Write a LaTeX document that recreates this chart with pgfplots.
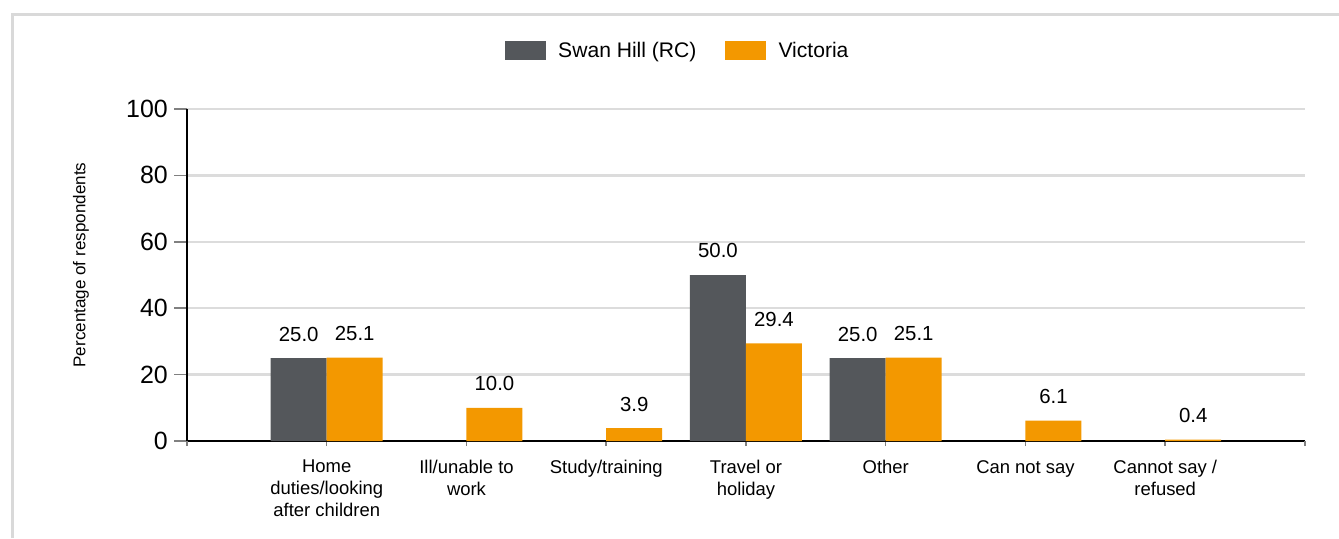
\documentclass[border=0pt]{standalone}
\usepackage{fontspec}
\setmainfont{Liberation Sans}
\usepackage{pgfplots}
\pgfplotsset{compat=1.18}

\definecolor{swan}{HTML}{54575B}
\definecolor{vic}{HTML}{F39800}
\definecolor{gridgray}{HTML}{DCDCDC}
\definecolor{framegray}{HTML}{D9D9D9}

\begin{document}
\begin{tikzpicture}
% picture is 1339 x 538 px, 1 px = 0.02cm
\useasboundingbox (0,0) rectangle (26.78cm,10.76cm);
\draw[framegray, line width=0.06cm] (0.24cm,0) -- (0.24cm,10.46cm) -- (26.78cm,10.46cm);

\begin{axis}[
    at={(3.74cm,1.94cm)}, anchor=south west,
    scale only axis,
    width=22.36cm, height=6.64cm,
    xmin=-1, xmax=7, ymin=0, ymax=100,
    ybar=0pt, bar width=1.12cm,
    axis x line*=bottom, axis y line*=left,
    axis line style={black, line width=0.04cm},
    ymajorgrids,
    grid style={gridgray, line width=0.05cm},
    tick align=outside,
    major tick length=0.26cm,
    xtick style={gray, line width=0.03cm, /pgfplots/major tick length=0.1cm},
    ytick style={gray, line width=0.03cm},
    ytick={0,20,...,100},
    xtick={0,...,6},
    extra x ticks={-1,7}, extra x tick labels={},
    xticklabels={Home\\duties/looking\\after children, Ill/unable to\\work, Study/training, Travel or\\holiday, Other, Can not say, Cannot say /\\refused},
    x tick label style={align=center, font=\fontsize{10.5}{12.5}\selectfont, yshift=0cm},
    y tick label style={font=\fontsize{14.2}{16}\selectfont},
    /pgf/number format/assume math mode=true,
    ylabel={Percentage of respondents},
    ylabel style={at={(axis description cs:-0.0948,0.53)}, anchor=center, font=\fontsize{9.7}{11}\selectfont},
    nodes near coords={\pgfmathprintnumber[fixed, fixed zerofill, precision=1]{\pgfplotspointmeta}},
    every node near coord/.append style={font=\fontsize{11.6}{14}\selectfont, anchor=base, yshift=0.34cm, black},
    legend style={at={(axis description cs:0.4395,1.1747)}, anchor=center, draw=none,
        font=\fontsize{12}{14}\selectfont, legend columns=2,
        /tikz/every even column/.append style={column sep=0.5cm}},
    legend image code/.code={\fill[#1] (0cm,-0.19cm) rectangle (0.82cm,0.19cm); \path (1.0cm,0);},
]
\addplot[fill=swan, draw=none] coordinates {(0,25.0) (3,50.0) (4,25.0)};
\addplot[fill=vic, draw=none] coordinates {(0,25.1) (1,10.0) (2,3.9) (3,29.4) (4,25.1) (5,6.1) (6,0.4)};
\legend{Swan Hill (RC), Victoria}
\end{axis}
\end{tikzpicture}
\end{document}
